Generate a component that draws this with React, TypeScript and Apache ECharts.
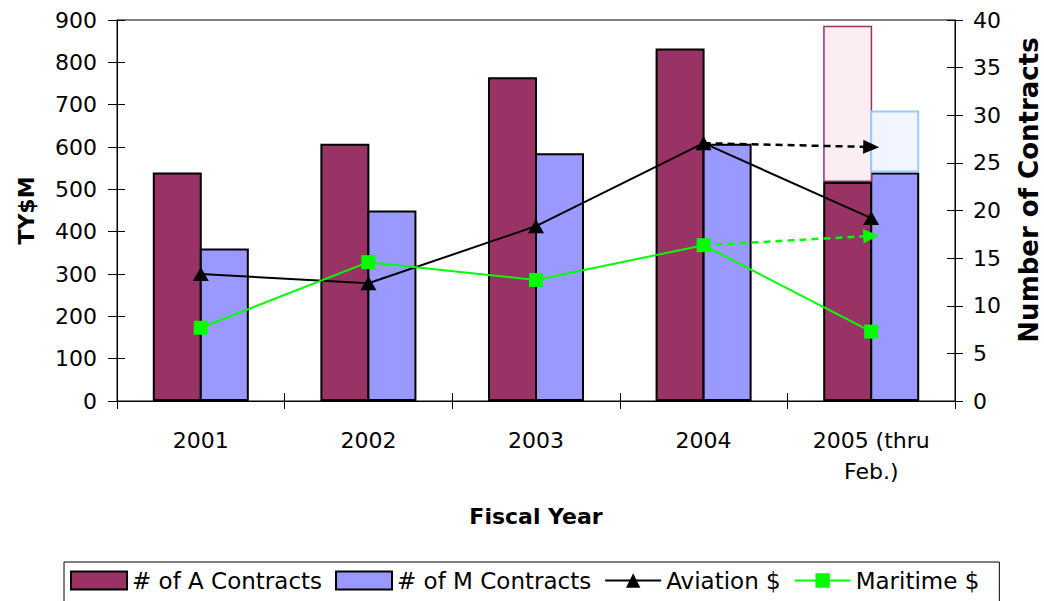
import React, { useEffect, useRef } from "react";
import * as echarts from "echarts";

// ---- data ----
const categories = ["2001", "2002", "2003", "2004", "2005 (thru\nFeb.)"];
const aContracts = [24, 27, 34, 37, 23];
const mContracts = [16, 20, 26, 27, 24];
const aContractsProjected: (number | null)[] = [null, null, null, null, 39.4];
const mContractsProjected: (number | null)[] = [null, null, null, null, 30.5];
const aviationDollars = [300, 278, 413, 609, 432];
const maritimeDollars = [173, 328, 286, 368, 164];
const aviationProjected = 600;
const maritimeProjected = 390;
const leftAxis = { min: 0, max: 900, interval: 100 };
const rightAxis = { min: 0, max: 40, interval: 5 };
const legendNames = ["# of A Contracts", "# of M Contracts", "Aviation $", "Maritime $"];
const rightAxisTitle = "Number of Contracts";

const FONT = "DejaVu Sans";

export default function App() {
  const ref = useRef<HTMLDivElement>(null);
  useEffect(() => {
    if (!ref.current) return;
    const chart = echarts.init(ref.current, undefined, { renderer: "svg" });
    const aRemainder = aContractsProjected.map((v, i) => (v == null ? null : +(v - aContracts[i]).toFixed(2)));
    const mRemainder = mContractsProjected.map((v, i) => (v == null ? null : +(v - mContracts[i]).toFixed(2)));
    const last = categories.length - 1;
    const black = "#000";
    const BW = 49;
    const GAP = "-4%";
    const option: any = {
      animation: false,
      textStyle: { fontFamily: FONT, color: black },
      grid: {
        left: 117, right: 89, top: 20, bottom: 200,
        show: true, borderColor: black, borderWidth: 1, backgroundColor: "transparent",
      },
      legend: {
        data: [
          { name: legendNames[0], icon: "rect" },
          { name: legendNames[1], icon: "rect" },
          { name: legendNames[2] },
          { name: legendNames[3] },
        ],
        left: 64, top: 562,
        borderColor: black, borderWidth: 1,
        padding: [7, 20, 14, 6],
        itemWidth: 56, itemHeight: 18, itemGap: 13,
        textStyle: { fontFamily: FONT, fontSize: 23, color: black },
        selectedMode: false,
      },
      graphic: [
        {
          type: "text", x: 1029, y: 190, rotation: Math.PI / 2,
          style: {
            text: rightAxisTitle, fontFamily: FONT, fontSize: 26, fontWeight: "bold",
            fill: black, textAlign: "center", textVerticalAlign: "middle",
          },
        },
      ],
      xAxis: [
        {
          type: "category", data: categories,
          axisLine: { show: true, lineStyle: { color: black, width: 1 } },
          axisTick: { show: true, length: 8, lineStyle: { color: black } },
          axisLabel: { fontFamily: FONT, fontSize: 22, color: black, margin: 24, lineHeight: 31, interval: 0 },
          name: "Fiscal Year", nameLocation: "middle", nameGap: 104,
          nameTextStyle: { fontFamily: FONT, fontSize: 22, fontWeight: "bold", color: black },
        },
        {
          type: "category", data: categories, position: "bottom",
          axisLine: { show: false },
          axisTick: { show: true, inside: true, length: 8, lineStyle: { color: black } },
          axisLabel: { show: false },
        },
      ],
      yAxis: [
        {
          type: "value", ...leftAxis, position: "left",
          axisLine: { show: true, lineStyle: { color: black } },
          axisTick: { show: true, length: 9, lineStyle: { color: black } },
          axisLabel: { fontFamily: FONT, fontSize: 22, color: black, margin: 20 },
          splitLine: { show: false },
          name: "TY$M", nameLocation: "middle", nameRotate: 90, nameGap: 80,
          nameTextStyle: { fontFamily: FONT, fontSize: 22, fontWeight: "bold", color: black },
        },
        {
          type: "value", ...rightAxis, position: "right",
          axisLine: { show: true, lineStyle: { color: black } },
          axisTick: { show: true, length: 8, lineStyle: { color: black } },
          axisLabel: { fontFamily: FONT, fontSize: 22, color: black, margin: 18 },
          splitLine: { show: false },
        },
        {
          type: "value", ...leftAxis, position: "left",
          axisLine: { show: false },
          axisTick: { show: true, inside: true, length: 8, lineStyle: { color: black } },
          axisLabel: { show: false }, splitLine: { show: false },
        },
        {
          type: "value", ...rightAxis, position: "right",
          axisLine: { show: false },
          axisTick: { show: true, inside: true, length: 8, lineStyle: { color: black } },
          axisLabel: { show: false }, splitLine: { show: false },
        },
      ],
      series: [
        {
          name: legendNames[0], type: "bar", yAxisIndex: 1, stack: "a",
          data: aContracts, barWidth: BW, barGap: GAP,
          itemStyle: { color: "#993366", borderColor: black, borderWidth: 2 },
        },
        {
          name: legendNames[1], type: "bar", yAxisIndex: 1, stack: "m",
          data: mContracts, barWidth: BW, barGap: GAP,
          itemStyle: { color: "#9999FF", borderColor: black, borderWidth: 2 },
        },
        {
          name: "A projected", type: "bar", yAxisIndex: 1, stack: "a",
          data: aRemainder, barWidth: BW, barGap: GAP,
          itemStyle: { color: "#fbeef3", borderColor: "#993366", borderWidth: 1.5 },
        },
        {
          name: "M projected", type: "bar", yAxisIndex: 1, stack: "m",
          data: mRemainder, barWidth: BW, barGap: GAP,
          itemStyle: { color: "#f1f5ff", borderColor: "#99CCFF", borderWidth: 2 },
        },
        {
          name: legendNames[2], type: "line", yAxisIndex: 0, data: aviationDollars,
          symbol: "triangle", symbolSize: [16, 14],
          itemStyle: { color: black },
          lineStyle: { color: black, width: 2 },
          z: 5,
          markLine: {
            silent: true, symbol: ["none", "triangle"], symbolSize: [14, 16],
            label: { show: false },
            lineStyle: { color: black, width: 2.5, type: [7, 5] },
            data: [[
              { coord: [categories[last - 1], aviationDollars[last - 1]] },
              { coord: [categories[last], aviationProjected] },
            ]],
          },
        },
        {
          name: legendNames[3], type: "line", yAxisIndex: 0, data: maritimeDollars,
          symbol: "rect", symbolSize: 14,
          itemStyle: { color: "#00FF00" },
          lineStyle: { color: "#00FF00", width: 2 },
          z: 5,
          markLine: {
            silent: true, symbol: ["none", "triangle"], symbolSize: [14, 16],
            label: { show: false },
            lineStyle: { color: "#00FF00", width: 2.5, type: [7, 5] },
            data: [[
              { coord: [categories[last - 1], maritimeDollars[last - 1]] },
              { coord: [categories[last], maritimeProjected] },
            ]],
          },
        },
      ],
    };
    chart.setOption(option);
    return () => chart.dispose();
  }, []);
  return <div ref={ref} style={{ width: 1044, height: 601, position: "absolute", left: 0, top: 0 }} />;
}
